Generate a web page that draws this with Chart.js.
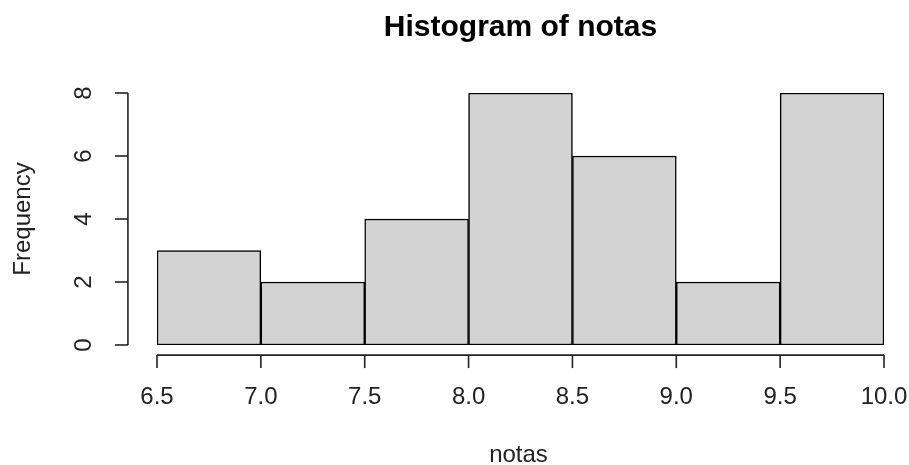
<!DOCTYPE html>
<html>
<head>
<meta charset="utf-8">
<script src="https://cdn.jsdelivr.net/npm/chart.js@4.4.1/dist/chart.umd.min.js"></script>
<style>
  html, body { margin: 0; padding: 0; background: #ffffff; }
  #wrap { width: 909px; height: 465px; }
</style>
</head>
<body>
<div id="wrap"><canvas id="histchart"></canvas></div>
<script>
"use strict";

/* histogram data: bins of 0.5 from 6.5 to 10.0 */
var binStarts = [6.5, 7.0, 7.5, 8.0, 8.5, 9.0, 9.5];
var binWidth = 0.5;
var counts = [3, 2, 4, 8, 6, 2, 8];
var xTicks = ["6.5", "7.0", "7.5", "8.0", "8.5", "9.0", "9.5", "10.0"];
var yTicks = ["0", "2", "4", "6", "8"];

var fontFamily = "'Liberation Sans', Arial, sans-serif";

/* R style axes: drawn detached from the plot, 4% outside the data range */
var rAxes = {
    id: 'rAxes',
    afterDraw: function (chart) {
        var ctx = chart.ctx;
        var xs = chart.scales.x;
        var ys = chart.scales.y;
        var xPad = (xs.max - xs.min) * 0.04;
        var yPad = (ys.max - ys.min) * 0.04;
        var axisX = xs.getPixelForValue(xs.min - xPad);
        var axisY = ys.getPixelForValue(ys.min - yPad);
        var tick = 13;

        ctx.save();
        ctx.strokeStyle = '#222';
        ctx.lineWidth = 1.6;
        ctx.fillStyle = '#222';
        ctx.font = '24px ' + fontFamily;

        /* x axis */
        var x0 = xs.getPixelForValue(xs.min);
        var x1 = xs.getPixelForValue(xs.max);
        ctx.beginPath();
        ctx.moveTo(x0, axisY);
        ctx.lineTo(x1, axisY);
        ctx.stroke();
        ctx.textAlign = 'center';
        ctx.textBaseline = 'middle';
        xs.ticks.forEach(function (t, i) {
            var px = xs.getPixelForValue(t.value);
            ctx.beginPath();
            ctx.moveTo(px, axisY);
            ctx.lineTo(px, axisY + tick);
            ctx.stroke();
            ctx.fillText(xTicks[i], px, axisY + 42);
        });

        /* y axis */
        var y0 = ys.getPixelForValue(ys.min);
        var y1 = ys.getPixelForValue(ys.max);
        ctx.beginPath();
        ctx.moveTo(axisX, y0);
        ctx.lineTo(axisX, y1);
        ctx.stroke();
        ys.ticks.forEach(function (t, i) {
            var py = ys.getPixelForValue(t.value);
            ctx.beginPath();
            ctx.moveTo(axisX, py);
            ctx.lineTo(axisX - tick, py);
            ctx.stroke();
            ctx.save();
            ctx.translate(axisX - 44, py);
            ctx.rotate(-Math.PI / 2);
            ctx.fillText(yTicks[i], 0, 0);
            ctx.restore();
        });

        /* axis titles */
        ctx.fillText('notas', (x0 + x1) / 2 - 2, 455);
        ctx.save();
        ctx.translate(23, (y0 + y1) / 2);
        ctx.rotate(-Math.PI / 2);
        ctx.fillText('Frequency', 0, 0);
        ctx.restore();
        ctx.restore();
    }
};

document.addEventListener("DOMContentLoaded", function () {
    var ctx = document.getElementById('histchart').getContext('2d');

    var points = binStarts.map(function (s, i) {
        return { x: s + binWidth / 2, y: counts[i] };
    });

    var histConfig = {
        type: 'bar',
        data: {
            datasets: [{
                label: 'notas',
                data: points,
                backgroundColor: '#d3d3d3',
                borderColor: '#000000',
                borderWidth: 1.5,
                borderSkipped: false,
                barPercentage: 1.0,
                categoryPercentage: 1.0,
            }]
        },
        options: {
            animation: false,
            responsive: true,
            maintainAspectRatio: false,
            layout: {
                padding: { left: 157, right: 25, top: 0, bottom: 120 }
            },
            plugins: {
                legend: { display: false },
                tooltip: { enabled: false },
                title: {
                    display: true,
                    text: 'Histogram of notas',
                    color: '#000000',
                    font: { family: fontFamily, size: 30, weight: 'bold', lineHeight: 1.2 },
                    padding: { top: 10, bottom: 47 }
                }
            },
            scales: {
                x: {
                    type: 'linear',
                    display: false,
                    offset: false,
                    min: 6.5,
                    max: 10,
                    ticks: { stepSize: 0.5 }
                },
                y: {
                    display: false,
                    min: 0,
                    max: 8,
                    ticks: { stepSize: 2 }
                }
            }
        },
        plugins: [rAxes]
    };
    new Chart(ctx, histConfig);
});
</script>
</body>
</html>
